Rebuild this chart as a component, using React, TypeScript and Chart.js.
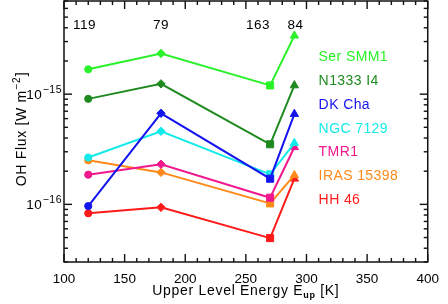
import React, { useEffect, useRef } from 'react';
import { Chart, registerables } from 'chart.js';

Chart.register(...registerables);

// ---- data ----
const energies = [120, 180, 270, 290];
const topLabels = ['119', '79', '163', '84'];
const topLabelPos = [117, 180, 260, 291];

const seriesNames = ['Ser SMM1', 'N1333 I4', 'DK Cha', 'NGC 7129', 'TMR1', 'IRAS 15398', 'HH 46'];
const serSMM1 = [1.68e-15, 2.34e-15, 1.2e-15, 3.39e-15];
const n1333I4 = [9.06e-16, 1.24e-15, 3.51e-16, 1.2e-15];
const dkCha = [9.65e-17, 6.7e-16, 1.71e-16, 6.6e-16];
const ngc7129 = [2.66e-16, 4.6e-16, 1.87e-16, 3.6e-16];
const tmr1 = [1.86e-16, 2.31e-16, 1.15e-16, 3.3e-16];
const iras15398 = [2.51e-16, 1.95e-16, 1.02e-16, 1.84e-16];
const hh46 = [8.3e-17, 9.4e-17, 4.94e-17, 1.71e-16];
const seriesValues = [serSMM1, n1333I4, dkCha, ngc7129, tmr1, iras15398, hh46];
const seriesColors = ['#2af22a', '#1f8a1f', '#1414ee', '#14eaea', '#f0188c', '#ff8a1a', '#ff1a1a'];

const markerStyles = ['circle', 'rectRot', 'rect', 'triangle'];
const markerSizes = [3.6, 4.2, 5, 4.8];

const xMin = 100;
const xMax = 400;
const yMin = 3e-17;
const yMax = 7e-15;

const FONT = "'Liberation Sans', Arial, Helvetica, sans-serif";

const setSpacing = (ctx: any, s: string) => {
  try {
    ctx.letterSpacing = s;
  } catch (e) {
    /* ignore */
  }
};

const decorPlugin = {
  id: 'decor',
  afterDraw(chart: any) {
    const ctx = chart.ctx as CanvasRenderingContext2D;
    const area = chart.chartArea;
    const xs = chart.scales.x;
    const ys = chart.scales.y;
    const L = area.left;
    const R = area.right;
    const T = area.top;
    const B = area.bottom;
    ctx.save();

    // frame
    ctx.strokeStyle = '#111';
    ctx.lineWidth = 1.5;
    ctx.strokeRect(L, T, R - L, B - T);

    // tick marks (inward)
    ctx.fillStyle = '#111';
    for (let v = xMin; v <= xMax; v += 10) {
      const px = xs.getPixelForValue(v);
      const len = v % 50 === 0 ? 8 : 4;
      ctx.fillRect(px - 0.7, B - len, 1.4, len);
      ctx.fillRect(px - 0.7, T, 1.4, len);
    }
    const eLo = Math.floor(Math.log10(yMin));
    const eHi = Math.ceil(Math.log10(yMax));
    for (let e = eLo; e <= eHi; e++) {
      for (let m = 1; m <= 9; m++) {
        const v = m * Math.pow(10, e);
        if (v < yMin * 0.999 || v > yMax * 1.001) continue;
        const py = ys.getPixelForValue(v);
        const len = m === 1 ? 8 : 4;
        ctx.fillRect(L, py - 0.7, len, 1.4);
        ctx.fillRect(R - len, py - 0.7, len, 1.4);
      }
    }

    // y tick labels with superscripts
    ctx.fillStyle = '#000';
    for (let e = eLo; e <= eHi; e++) {
      const v = Math.pow(10, e);
      if (v < yMin || v > yMax) continue;
      const py = ys.getPixelForValue(v);
      setSpacing(ctx, '0.5px');
      ctx.font = `10.5px ${FONT}`;
      const sup = '\u2212' + String(Math.abs(e));
      const supW = ctx.measureText(sup).width;
      const right = L - 2;
      ctx.textAlign = 'left';
      ctx.textBaseline = 'alphabetic';
      ctx.fillText(sup, right - supW, py - 1);
      ctx.font = `13.5px ${FONT}`;
      ctx.textAlign = 'right';
      ctx.fillText('10', right - supW - 0.5, py + 5);
    }

    // top numbers
    setSpacing(ctx, '0.5px');
    ctx.font = `13.5px ${FONT}`;
    ctx.textAlign = 'center';
    ctx.textBaseline = 'alphabetic';
    ctx.fillStyle = '#000';
    topLabels.forEach((t, i) => {
      ctx.fillText(t, xs.getPixelForValue(topLabelPos[i]), T + 27.5);
    });

    // legend text
    setSpacing(ctx, '0.4px');
    ctx.font = `14px ${FONT}`;
    ctx.textAlign = 'left';
    ctx.textBaseline = 'middle';
    seriesNames.forEach((nm, i) => {
      ctx.fillStyle = seriesColors[i];
      ctx.fillText(nm, xs.getPixelForValue(310), T + 56 + i * 23.9);
    });

    // x axis title with subscript
    ctx.fillStyle = '#000';
    ctx.textBaseline = 'alphabetic';
    const p1 = 'Upper Level Energy E';
    const sub = 'up';
    const p2 = ' [K]';
    setSpacing(ctx, '0.7px');
    ctx.font = `14px ${FONT}`;
    const w1 = ctx.measureText(p1).width;
    const w3 = ctx.measureText(p2).width;
    ctx.font = `bold 9px ${FONT}`;
    const w2 = ctx.measureText(sub).width;
    const total = w1 + w2 + w3;
    const cx = (L + R) / 2;
    let sx = cx - total / 2;
    const by = 295;
    ctx.textAlign = 'left';
    ctx.font = `14px ${FONT}`;
    ctx.fillText(p1, sx, by);
    sx += w1;
    ctx.font = `bold 9px ${FONT}`;
    ctx.fillText(sub, sx, by + 3);
    sx += w2;
    ctx.font = `14px ${FONT}`;
    ctx.fillText(p2, sx, by);

    // y axis title with superscript
    ctx.save();
    const cy = (T + B) / 2 - 2;
    ctx.translate(25.5, cy);
    ctx.rotate(-Math.PI / 2);
    const q1 = 'OH Flux [W m';
    const qs = '\u22122';
    const q2 = ']';
    ctx.font = `14px ${FONT}`;
    const v1 = ctx.measureText(q1).width;
    const v3 = ctx.measureText(q2).width;
    ctx.font = `10px ${FONT}`;
    const v2 = ctx.measureText(qs).width;
    let tx = -(v1 + v2 + v3) / 2;
    ctx.font = `14px ${FONT}`;
    ctx.fillText(q1, tx, 0);
    tx += v1;
    ctx.font = `10px ${FONT}`;
    ctx.fillText(qs, tx + 0.5, -6);
    tx += v2 + 1;
    ctx.font = `14px ${FONT}`;
    ctx.fillText(q2, tx, 0);
    ctx.restore();

    setSpacing(ctx, '0px');
    ctx.restore();
  },
};

export default function App() {
  const ref = useRef<HTMLCanvasElement | null>(null);

  useEffect(() => {
    if (!ref.current) return;
    const datasets = seriesNames.map((name, si) => ({
      label: name,
      data: energies.map((x, i) => ({ x, y: seriesValues[si][i] })),
      borderColor: seriesColors[si],
      backgroundColor: seriesColors[si],
      pointBackgroundColor: seriesColors[si],
      pointBorderColor: seriesColors[si],
      pointStyle: markerStyles as any,
      pointRadius: markerSizes,
      pointBorderWidth: 1,
      borderWidth: 2,
      showLine: true,
      tension: 0,
    }));

    const chart = new Chart(ref.current, {
      type: 'scatter',
      data: { datasets },
      plugins: [decorPlugin],
      options: {
        animation: false,
        responsive: false,
        maintainAspectRatio: false,
        layout: { autoPadding: false, padding: { top: 1, right: 13, bottom: 0, left: 0 } },
        plugins: { legend: { display: false }, tooltip: { enabled: false }, title: { display: false } },
        scales: {
          x: {
            type: 'linear',
            position: 'bottom',
            min: xMin,
            max: xMax,
            grid: { display: false, drawTicks: false },
            border: { display: false },
            ticks: {
              stepSize: 10,
              autoSkip: false,
              maxRotation: 0,
              padding: 9,
              color: '#000',
              font: { family: FONT, size: 13.5 },
              callback: (v: any) => (Number(v) % 50 === 0 ? String(v) : ''),
            },
            afterFit: (s: any) => {
              s.height = 42;
            },
          },
          y: {
            type: 'logarithmic',
            position: 'left',
            min: yMin,
            max: yMax,
            grid: { display: false, drawTicks: false },
            border: { display: false },
            ticks: { display: false },
            afterFit: (s: any) => {
              s.width = 64;
            },
          },
        },
      },
    });
    return () => chart.destroy();
  }, []);

  return (
    <div style={{ position: 'absolute', left: 0, top: 0, width: 448, height: 304, background: '#fff' }}>
      <canvas ref={ref} width={448} height={304} style={{ width: 448, height: 304, display: 'block' }} />
    </div>
  );
}
